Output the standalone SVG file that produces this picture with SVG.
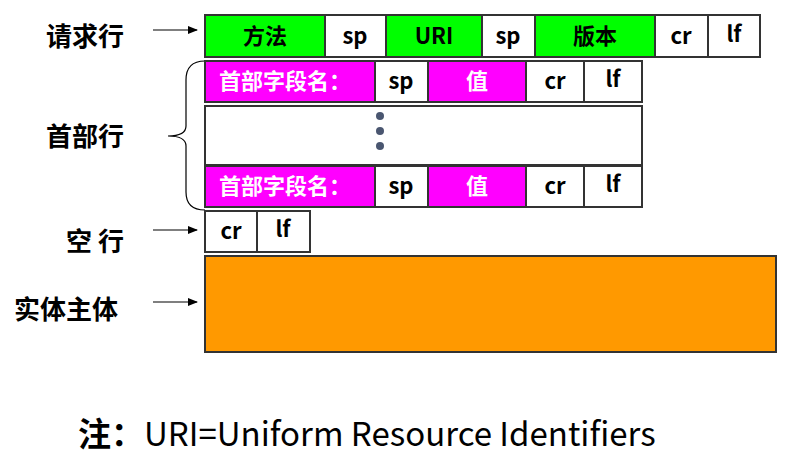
<svg xmlns="http://www.w3.org/2000/svg" width="798" height="471" viewBox="0 0 798 471">
<style>
.c{stroke:#333;stroke-width:2}
.g{fill:#00FF00}.w{fill:#fff}.m{fill:#FF00FF}
.t{font-family:"Noto Sans CJK SC","Liberation Sans",sans-serif;font-weight:bold;font-size:22px;text-anchor:middle}
.wt{fill:#fff}
.lb{font-family:"Noto Sans CJK SC",sans-serif;font-weight:bold;font-size:26px;text-anchor:middle}
</style>
<defs><marker id="a" markerWidth="10" markerHeight="8" refX="9" refY="4" orient="auto" markerUnits="userSpaceOnUse"><path d="M0,0 L10,4 L0,8 Z" fill="#000"/></marker></defs>
<g id="labels">
<text class="lb" x="85" y="46">请求行</text>
<text class="lb" x="85" y="146">首部行</text>
<text class="lb" x="95" y="251">空  行</text>
<text class="lb" x="66" y="319">实体主体</text>
</g>
<g id="connectors" stroke="#000" stroke-width="1.2" fill="none">
<line x1="153" y1="30" x2="197" y2="30" marker-end="url(#a)"/>
<line x1="153" y1="230" x2="197" y2="230" marker-end="url(#a)"/>
<line x1="153" y1="302" x2="197" y2="302" marker-end="url(#a)"/>
<path d="M205,61 Q186,61 186,80 L186,126 Q186,136 168,136 Q186,136 186,146 L186,192 Q186,210 205,210"/>
</g>
<g id="request">
<rect class="c g" x="205" y="15" width="120" height="42"/><text class="t" x="265" y="44">方法</text>
<rect class="c w" x="325" y="15" width="61" height="42"/><text class="t" x="355" y="44">sp</text>
<rect class="c g" x="386" y="15" width="96" height="42"/><text class="t" x="434" y="44">URI</text>
<rect class="c w" x="482" y="15" width="53" height="42"/><text class="t" x="508" y="44">sp</text>
<rect class="c g" x="535" y="15" width="120" height="42"/><text class="t" x="595" y="44">版本</text>
<rect class="c w" x="655" y="15" width="53" height="42"/><text class="t" x="681" y="44">cr</text>
<rect class="c w" x="708" y="15" width="52" height="42"/><text class="t" x="734" y="42">lf</text>
</g>
<g id="header1">
<rect class="c m" x="205" y="61" width="170" height="41"/><text class="t wt" x="285" y="89">首部字段名：</text>
<rect class="c w" x="375" y="61" width="53" height="41"/><text class="t" x="401" y="89">sp</text>
<rect class="c m" x="428" y="61" width="98" height="41"/><text class="t wt" x="477" y="89">值</text>
<rect class="c w" x="526" y="61" width="58" height="41"/><text class="t" x="555" y="89">cr</text>
<rect class="c w" x="584" y="61" width="58" height="41"/><text class="t" x="613" y="87">lf</text>
</g>
<g id="dots">
<rect class="c w" x="205" y="106" width="437" height="59"/>
<circle cx="380" cy="116" r="4" fill="#4a5670"/><circle cx="380" cy="131" r="4" fill="#4a5670"/><circle cx="380" cy="146" r="4" fill="#4a5670"/>
</g>
<g id="header2">
<rect class="c m" x="205" y="166" width="170" height="41"/><text class="t wt" x="285" y="194">首部字段名：</text>
<rect class="c w" x="375" y="166" width="53" height="41"/><text class="t" x="401" y="194">sp</text>
<rect class="c m" x="428" y="166" width="98" height="41"/><text class="t wt" x="477" y="194">值</text>
<rect class="c w" x="526" y="166" width="58" height="41"/><text class="t" x="555" y="194">cr</text>
<rect class="c w" x="584" y="166" width="58" height="41"/><text class="t" x="613" y="192">lf</text>
</g>
<g id="empty">
<rect class="c w" x="205" y="211" width="52" height="41"/><text class="t" x="231" y="239">cr</text>
<rect class="c w" x="257" y="211" width="53" height="41"/><text class="t" x="283" y="237">lf</text>
</g>
<g id="body"><rect class="c" fill="#FF9900" x="205" y="256" width="571" height="96"/></g>
<g id="note"><text x="78" y="446" font-family="'Noto Sans CJK SC','Open Sans',sans-serif" font-size="33"><tspan font-weight="bold">注：</tspan>URI=Uniform Resource Identifiers</text></g>
</svg>
